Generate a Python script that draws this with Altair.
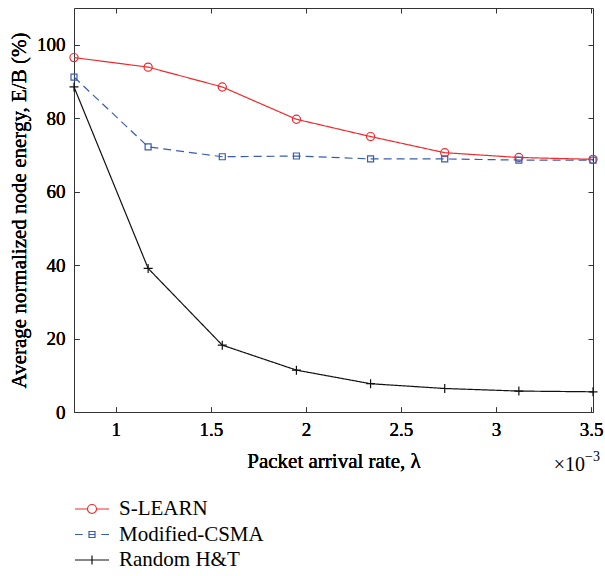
import altair as alt
import pandas as pd

x_vals = [0.78, 1.17, 1.56, 1.95, 2.34, 2.73, 3.12, 3.51]
s_learn = [96.5, 93.9, 88.5, 79.7, 75.0, 70.6, 69.3, 68.8]
mod_csma = [91.2, 72.2, 69.5, 69.7, 68.9, 68.9, 68.6, 68.6]
random_ht = [88.5, 39.1, 18.2, 11.4, 7.7, 6.4, 5.7, 5.5]
series_names = ["S-LEARN", "Modified-CSMA", "Random H&T"]
x_ticks = [1, 1.5, 2, 2.5, 3, 3.5]
y_ticks = [0, 20, 40, 60, 80, 100]

colors = ["#ee2a2e", "#3a5cb0", "#111111"]
dashes = [[1, 0], [8, 5], [1, 0]]
PLUS = "M-1,0H1M0,-1V1"
point_shapes = ["circle", "square", PLUS]
point_sizes = [66, 36, 81]

legend_paths = [
    "M-1.26,0H-0.333M0.333,0H1.26M-0.333,0A0.333,0.333 0 1,0 0.333,0A0.333,0.333 0 1,0 -0.333,0",
    "M-1.26,0H-0.69M-0.22,0H0.22M0.69,0H1.26M-0.222,-0.222H0.222V0.222H-0.222Z",
    "M-1.26,0H1.26M0,-0.333V0.333",
]

rows = []
for name, vals in zip(series_names, [s_learn, mod_csma, random_ht]):
    for xv, yv in zip(x_vals, vals):
        rows.append({"series": name, "x": xv, "y": yv})
df = pd.DataFrame(rows)

FONT = "Liberation Serif"
TICK_FS = 19
TITLE_FS = 21
LEG_FS = 21
xscale = alt.Scale(domain=[0.78, 3.51], nice=False, zero=False)
yscale = alt.Scale(domain=[0, 110], nice=False)

x_bottom = alt.X("x:Q", scale=xscale,
                 axis=alt.Axis(orient="bottom", values=x_ticks, title="Packet arrival rate, λ",
                               offset=-5, labelPadding=8, titlePadding=11, format="~g"))
y_left = alt.Y("y:Q", scale=yscale,
               axis=alt.Axis(orient="left", values=y_ticks,
                             title="Average normalized node energy, E/B (%)",
                             offset=-5, labelPadding=9, titlePadding=7))

layers = []
for i, name in enumerate(series_names):
    base = alt.Chart(df).transform_filter(alt.datum.series == name)
    line = base.mark_line(color=colors[i], strokeWidth=1.2, strokeDash=dashes[i]).encode(
        x=x_bottom, y=y_left)
    pts = base.mark_point(shape=point_shapes[i], size=point_sizes[i], filled=False,
                          color=colors[i], strokeWidth=1.2, opacity=1).encode(
        x=alt.X("x:Q", scale=xscale, axis=None), y=alt.Y("y:Q", scale=yscale, axis=None))
    layers += [line, pts]

legend_layer = alt.Chart(df).mark_point(opacity=0, filled=False).encode(
    x=alt.X("x:Q", scale=xscale,
            axis=alt.Axis(orient="top", values=x_ticks, labels=False, title=None, offset=-5)),
    y=alt.Y("y:Q", scale=yscale,
            axis=alt.Axis(orient="right", values=y_ticks, labels=False, title=None, offset=-5)),
    color=alt.Color("series:N", scale=alt.Scale(domain=series_names, range=colors),
                    legend=alt.Legend(title=None, orient="none", legendX=3.5, legendY=486.5,
                                      symbolSize=729, symbolOpacity=1, symbolStrokeWidth=1.2,
                                      labelOffset=12.5, padding=0, rowPadding=0.5,
                                      labelFontSize=LEG_FS, labelFont=FONT,
                                      labelColor="black")),
    shape=alt.Shape("series:N", scale=alt.Scale(domain=series_names, range=legend_paths)),
)

exp_base = alt.Chart(pd.DataFrame({"t": ["×10"], "e": ["−3"]}))
exp_text = exp_base.mark_text(
    font=FONT, fontSize=20, align="right", baseline="alphabetic", color="black").encode(
    text="t:N", x=alt.value(511), y=alt.value(463))
exp_sup = exp_base.mark_text(
    font=FONT, fontSize=14, align="left", baseline="alphabetic", color="black").encode(
    text="e:N", x=alt.value(511), y=alt.value(453))

chart = alt.layer(*layers, legend_layer, exp_text, exp_sup).resolve_axis(
    x="independent", y="independent").properties(
    width=519, height=404,
    background="white",
    autosize=alt.AutoSizeParams(type="none"),
    padding={"left": 74, "top": 8, "right": 12, "bottom": 164},
).configure_view(stroke="#333333", strokeWidth=1).configure_axis(
    labelFont=FONT, labelFontSize=TICK_FS, labelColor="black", titleFont=FONT,
    titleFontSize=TITLE_FS, titleFontWeight="normal", titleColor="black",
    tickColor="#333333", tickSize=5, tickWidth=1, domain=False, grid=False,
).configure_legend(labelFontSize=LEG_FS, labelFont=FONT)

chart.save("out.html", embed_options={"renderer": "svg", "actions": False})
